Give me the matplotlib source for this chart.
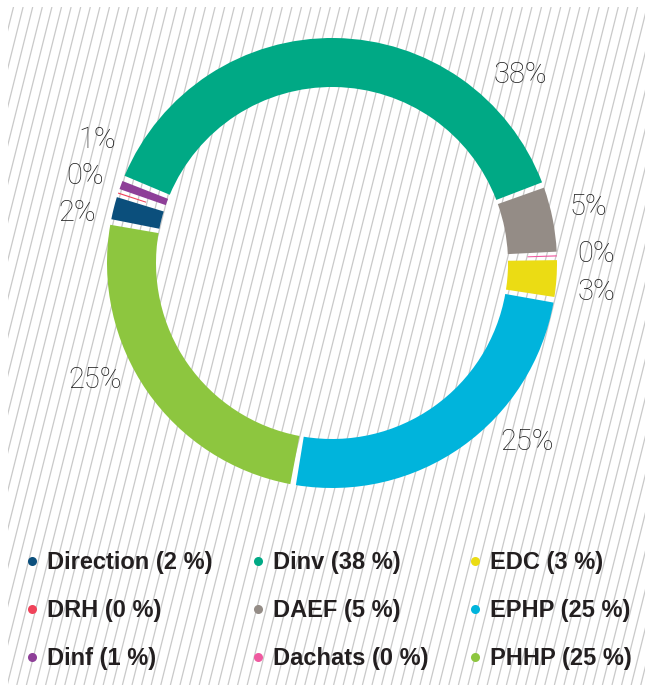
import numpy as np
import matplotlib
matplotlib.use('Agg')
import matplotlib.pyplot as plt
from matplotlib.lines import Line2D
from matplotlib.collections import LineCollection
from matplotlib.font_manager import FontProperties

# ---- data ----
names = ['Direction', 'DRH', 'Dinf', 'Dinv', 'DAEF', 'Dachats', 'EDC', 'EPHP', 'PHHP']
values = [2, 0.2, 1, 38, 5, 0.2, 3, 25, 25]
colors = ['#0b4f7c', '#f0435a', '#8e3f98', '#00a985', '#948c86',
          '#ef5aa0', '#ebdc14', '#00b4dc', '#8dc63f']
# label centres (in pie radius units)
label_xy = [(-1.133, 0.222), (-1.098, 0.387), (-1.044, 0.547), (0.836, 0.836),
            (1.138, 0.249), (1.173, 0.040), (1.173, -0.129), (0.867, -0.796),
            (-1.053, -0.52)]

W, H = 652, 691
fig = plt.figure(figsize=(W / 100, H / 100), dpi=100)
fig.patch.set_facecolor('white')

# ---- hatched background ----
bx0, bx1, by0, by1 = 8, 645, 7, 685
bg = fig.add_axes([bx0 / W, (H - by1) / H, (bx1 - bx0) / W, (by1 - by0) / H])
bg.set_xlim(bx0, bx1)
bg.set_ylim(by1, by0)
bg.axis('off')
slope = 0.25
segs = []
for x0 in np.arange(-300, 700, 9.6):
    segs.append([(x0, by1), (x0 + slope * (by1 - by0), by0)])
bg.add_collection(LineCollection(segs, colors='#c9c9c9', linewidths=0.9))

# ---- donut ----
cx, cy, R = 332, 263, 225
half = 250
ax = fig.add_axes([(cx - half) / W, (H - (cy + half)) / H, 2 * half / W, 2 * half / H])
ring = 49 / R
wedges, _ = ax.pie(values, colors=colors, startangle=169.5, counterclock=False,
                   radius=1.0, wedgeprops=dict(width=ring, linewidth=0))
half_gap = 0.72
for w, v in zip(wedges, values):
    if v < 0.5:
        mid = 0.5 * (w.theta1 + w.theta2)
        w.set_theta1(mid - 0.15)
        w.set_theta2(mid + 0.15)
        w.set_width(ring * 0.6)
    else:
        w.set_theta1(w.theta1 + half_gap)
        w.set_theta2(w.theta2 - half_gap)
ax.set_xlim(-half / R, half / R)
ax.set_ylim(-half / R, half / R)
ax.set_aspect('equal')
ax.axis('off')

for (lx, ly), v in zip(label_xy, values):
    ax.text(lx, ly, f'{round(v)}%', ha='center', va='center', fontsize=21,
            color='#1e1e1e', family=['Roboto', 'DejaVu Sans'], fontweight='light')

# ---- legend ----
fs = 17
handles = [Line2D([0], [0], marker='o', linestyle='none', markersize=6.5,
                  markerfacecolor=c, markeredgecolor='none') for c in colors]
labels = [f'{n} ({round(v)} %)' for n, v in zip(names, values)]
fig.legend(handles, labels, ncol=3, loc='upper left',
           bbox_to_anchor=(27 / W, (H - 551) / H), frameon=False,
           prop=FontProperties(family=['Liberation Sans', 'DejaVu Sans'],
                               weight='bold', size=fs),
           handlelength=0.4, handletextpad=0.44, columnspacing=1.75,
           labelspacing=1.06, borderpad=0, borderaxespad=0, labelcolor='#231f20')

fig.savefig('out.png', dpi=100, facecolor='white')
